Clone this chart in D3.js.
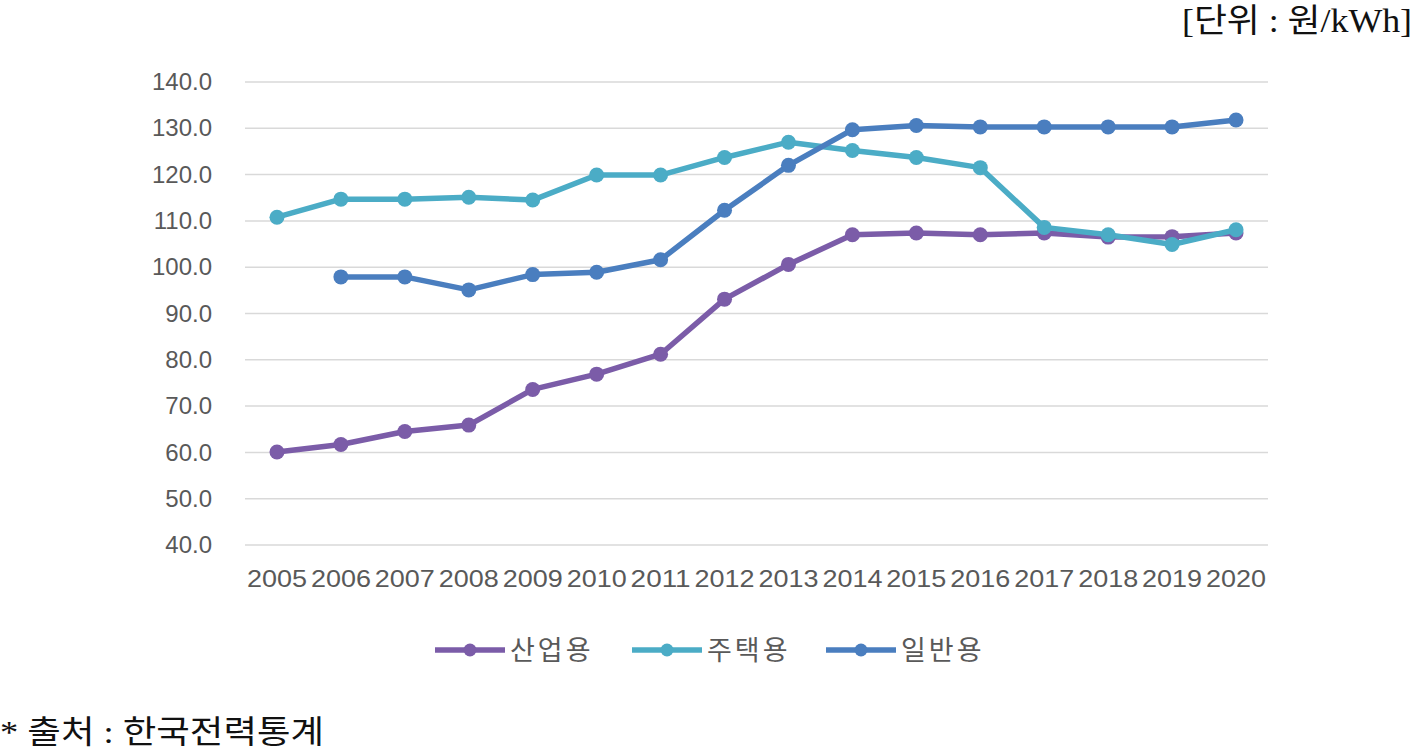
<!DOCTYPE html>
<html><head><meta charset="utf-8">
<script src="https://cdn.jsdelivr.net/npm/d3@7/dist/d3.min.js"></script>
<style>
html,body{margin:0;padding:0;background:#fff;}
svg{display:block;}
</style></head>
<body>
<svg id="chart" width="1414" height="750"></svg>
<script>
const years = ["2005","2006","2007","2008","2009","2010","2011","2012","2013","2014","2015","2016","2017","2018","2019","2020"];
const industrial = [60.1,61.7,64.5,65.9,73.6,76.9,81.2,93.1,100.6,107.0,107.4,107.0,107.4,106.5,106.6,107.4];
const residential = [110.8,114.7,114.7,115.1,114.5,119.9,119.9,123.7,127.0,125.2,123.7,121.5,108.6,107.0,104.9,108.1];
const general = [null,97.9,97.9,95.1,98.4,98.9,101.6,112.3,122.0,129.7,130.6,130.3,130.3,130.3,130.3,131.8];
const seriesNames = ["산업용","주택용","일반용"];
const seriesColors = ["#7B5CA8","#4BACC6","#4A7EBF"];
const yTicks = [40,50,60,70,80,90,100,110,120,130,140];
const unitText = "[단위 : 원/kWh]";
const sourceText = "* 출처 : 한국전력통계";

const svg = d3.select("#chart");
const x = d3.scaleBand().domain(years).range([245,1268]).paddingInner(0).paddingOuter(0);
const y = d3.scaleLinear().domain([40,140]).range([545,82]);
const cx = d => x(d) + x.bandwidth()/2;

// gridlines
svg.append("g").selectAll("line").data(yTicks).join("line")
  .attr("x1",245).attr("x2",1268)
  .attr("y1",d=>y(d)).attr("y2",d=>y(d))
  .attr("stroke","#d9d9d9").attr("stroke-width",1.5);

// y axis labels
const yAxis = d3.axisLeft(y).tickValues(yTicks).tickFormat(d3.format(".1f")).tickSize(0).tickPadding(0);
const gy = svg.append("g").attr("transform","translate(212,0)").call(yAxis);
gy.select(".domain").remove();
gy.selectAll("text").attr("font-family","'Liberation Sans', Arial, sans-serif")
  .attr("font-size",24).attr("fill","#595959");

// x axis labels
const xAxis = d3.axisBottom(x).tickSize(0).tickPadding(0);
const gx = svg.append("g").attr("transform","translate(0,570)").call(xAxis);
gx.select(".domain").remove();
gx.selectAll("text").attr("font-family","'Liberation Sans', Arial, sans-serif")
  .attr("font-size",24).attr("fill","#595959").attr("dy","0.71em")
  .attr("textLength",60).attr("lengthAdjust","spacingAndGlyphs");

const allSeries = [industrial, residential, general];
const line = d3.line().defined(d=>d.v!=null).x(d=>cx(d.year)).y(d=>y(d.v));

allSeries.forEach((vals,i)=>{
  const data = years.map((yr,j)=>({year:yr,v:vals[j]}));
  const g = svg.append("g");
  g.append("path").datum(data).attr("d",line)
    .attr("fill","none").attr("stroke",seriesColors[i]).attr("stroke-width",5.5)
    .attr("stroke-linejoin","round").attr("stroke-linecap","round");
  g.selectAll("circle").data(data.filter(d=>d.v!=null)).join("circle")
    .attr("cx",d=>cx(d.year)).attr("cy",d=>y(d.v)).attr("r",7.5)
    .attr("fill",seriesColors[i]);
});

// legend
const legendX = [435,632,826];
const lg = svg.append("g");
seriesNames.forEach((name,i)=>{
  const x0 = legendX[i];
  lg.append("line").attr("x1",x0).attr("x2",x0+70).attr("y1",650).attr("y2",650)
    .attr("stroke",seriesColors[i]).attr("stroke-width",5.5);
  lg.append("circle").attr("cx",x0+35).attr("cy",650).attr("r",6.5).attr("fill",seriesColors[i]);
  lg.append("text").attr("x",x0+75).attr("y",650).attr("dy","0.36em")
    .attr("font-family","'Noto Sans CJK KR', sans-serif").attr("font-size",27)
    .attr("letter-spacing",3).attr("fill","#595959").text(name);
});

// unit text
svg.append("text").attr("x",1182).attr("y",32)
  .attr("font-family","'Liberation Serif', 'Noto Sans CJK KR', serif").attr("font-size",33)
  .attr("textLength",230).attr("lengthAdjust","spacingAndGlyphs")
  .attr("fill","#111").text(unitText);

// source text
svg.append("text").attr("x",0).attr("y",743)
  .attr("font-family","'Liberation Serif', 'Noto Sans CJK KR', serif").attr("font-size",32)
  .attr("textLength",324).attr("lengthAdjust","spacingAndGlyphs")
  .attr("fill","#111").text(sourceText);
</script>
</body></html>
